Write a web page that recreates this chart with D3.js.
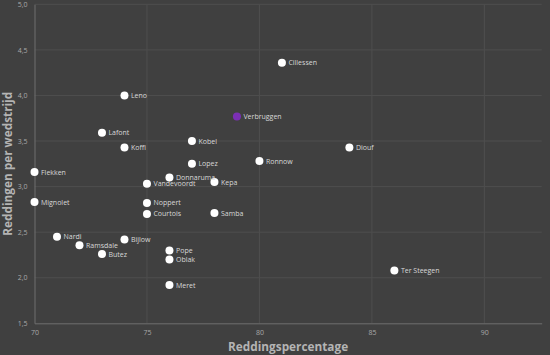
<!DOCTYPE html>
<html><head><meta charset="utf-8">
<script src="https://cdn.jsdelivr.net/npm/d3@7"></script>
<style>
html,body{margin:0;padding:0;background:#404040;}
svg{display:block;font-family:"Open Sans",sans-serif;}
</style></head>
<body><svg id="c" width="550" height="355"></svg>
<script>
const names = ["Cillessen","Leno","Verbruggen","Lafont","Koffi","Kobel","Lopez","Ronnow","Diouf","Flekken","Donnaruma","Vandevoordt","Kepa","Mignolet","Noppert","Courtois","Samba","Nardi","Ramsdale","Butez","Bijlow","Pope","Oblak","Meret","Ter Steegen"];
const savePct = [81,74,79,73,74,77,77,80,84,70,76,75,78,70,75,75,78,71,72,73,74,76,76,76,86];
const savesPerGame = [4.36,4.0,3.77,3.59,3.43,3.5,3.25,3.28,3.43,3.16,3.10,3.03,3.05,2.83,2.82,2.70,2.71,2.45,2.355,2.26,2.42,2.30,2.20,1.92,2.08];
const highlight = ["Verbruggen"];
const xTicks = [70,75,80,85,90];
const yTicks = [1.5,2.0,2.5,3.0,3.5,4.0,4.5,5.0];

const svg = d3.select("#c");
const W=550,H=355;
const m={l:34.5,r:8.3,t:4.3,b:31.7};
const x=d3.scaleLinear().domain([70,92.55]).range([m.l,W-m.r]);
const y=d3.scaleLinear().domain([1.5,5]).range([H-m.b,m.t]);
const fmt=d=>d3.format(".1f")(d).replace(".",",");

const g=svg.append("g");
g.selectAll(".gx").data(xTicks.slice(1)).join("line")
 .attr("x1",d=>x(d)).attr("x2",d=>x(d)).attr("y1",y(1.5)).attr("y2",y(5))
 .attr("stroke","#4e4e4e").attr("stroke-width",1);
g.selectAll(".gy").data(yTicks.slice(1)).join("line")
 .attr("x1",x(70)).attr("x2",x(92.55)).attr("y1",d=>y(d)).attr("y2",d=>y(d))
 .attr("stroke","#4e4e4e").attr("stroke-width",1);

const xa=svg.append("g").attr("transform",`translate(0,${y(1.5)})`)
 .call(d3.axisBottom(x).tickValues(xTicks).tickSize(0).tickPadding(7).tickFormat(d=>d));
const ya=svg.append("g").attr("transform",`translate(${x(70)},0)`)
 .call(d3.axisLeft(y).tickValues(yTicks).tickSize(0).tickPadding(7).tickFormat(fmt));
[xa,ya].forEach(a=>{
 a.select(".domain").attr("stroke","#6e6e6e").attr("stroke-width",1);
 a.selectAll("text").attr("fill","#a8a8a8").attr("font-size","7px").attr("font-family","Open Sans, sans-serif");
});

const data=names.map((n,i)=>({n,x:savePct[i],y:savesPerGame[i]}));
const pts=svg.append("g");
pts.selectAll("circle").data(data).join("circle")
 .attr("cx",d=>x(d.x)).attr("cy",d=>y(d.y)).attr("r",4)
 .attr("fill",d=>highlight.includes(d.n)?"#7b2fb5":"#ffffff");
pts.selectAll("text").data(data).join("text")
 .attr("x",d=>x(d.x)+6.5).attr("y",d=>y(d.y)+2.5)
 .attr("fill","#d8d8d8").attr("font-size","7px").text(d=>d.n);

svg.append("text").attr("x",(x(70)+x(92.55))/2).attr("y",351)
 .attr("text-anchor","middle").attr("fill","#b4b4b4").attr("font-size","11.8px").attr("font-weight","bold")
 .text("Reddingspercentage");
svg.append("text").attr("transform",`translate(12,${(y(1.5)+y(5))/2}) rotate(-90)`)
 .attr("text-anchor","middle").attr("fill","#b4b4b4").attr("font-size","11.8px").attr("font-weight","bold")
 .text("Reddingen per wedstrijd");
</script></body></html>
